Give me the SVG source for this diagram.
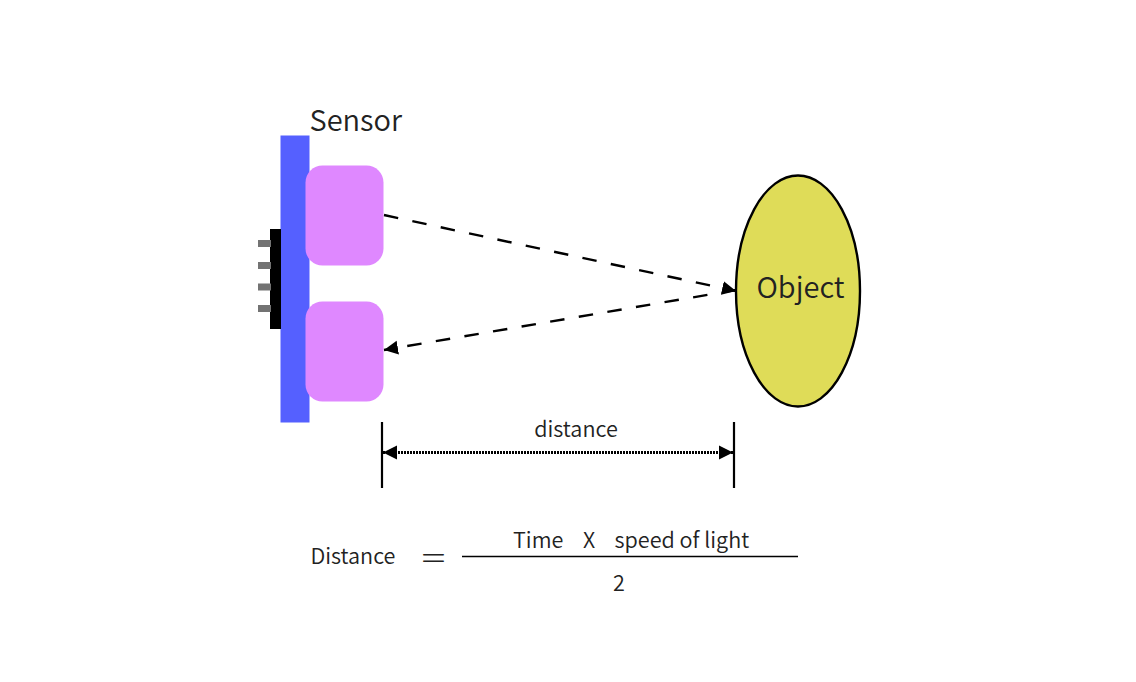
<svg xmlns="http://www.w3.org/2000/svg" width="1136" height="682" viewBox="0 0 1136 682">
<style>
text{font-family:"Noto Sans CJK SC","Noto Sans",sans-serif;fill:#222;font-weight:350}
.l{font-size:21.6px}
.big{font-size:29px}
.dash{fill:none;stroke:#000;stroke-width:2.400;stroke-dasharray:14.500 14.500}
.sol{fill:none;stroke:#000;stroke-width:2.200}
.dot{fill:none;stroke:#000;stroke-width:3;stroke-dasharray:2 1}
.pin{fill:#737373}
.lens{fill:#df88ff}
</style>
<defs>
<marker id="a" markerUnits="userSpaceOnUse" markerWidth="16" markerHeight="16" refX="14" refY="8" orient="auto-start-reverse"><path d="M0 1L14 8L0 15Z" fill="#000"/></marker>
</defs>
<rect width="1136" height="682" fill="#fff"/>
<g id="board"><rect x="280.500" y="135.500" width="29" height="287" fill="#5560ff"/></g>
<g id="connector-block"><rect x="270" y="229" width="11" height="100" fill="#000"/></g>
<g id="pins">
<rect class="pin" x="258" y="240" width="13" height="7"/>
<rect class="pin" x="258" y="262" width="13" height="7"/>
<rect class="pin" x="258" y="283.500" width="13" height="7"/>
<rect class="pin" x="258" y="305" width="13" height="7"/>
</g>
<g id="emitter"><rect class="lens" x="305.500" y="165.500" width="78" height="100" rx="17"/></g>
<g id="receiver"><rect class="lens" x="305.500" y="301.500" width="78" height="100" rx="17"/></g>
<g id="sensor-label"><text x="309.500" y="131" class="big">Sensor</text></g>
<g id="object"><ellipse cx="798" cy="291" rx="62" ry="115.500" fill="#dfdc58" stroke="#000" stroke-width="2.400"/><text x="756.500" y="298" class="big">Object</text></g>
<g id="connectors">
<path class="dash" d="M384 215L736 291" marker-end="url(#a)"/>
<path class="dash" d="M736 290L384 350" marker-end="url(#a)"/>
<path class="sol" d="M382 422V488M734 422V488"/>
<path class="dot" d="M383 452.500H733" marker-start="url(#a)" marker-end="url(#a)"/>
<path d="M462 556.500H798" fill="none" stroke="#000" stroke-width="1.300"/>
</g>
<g id="distance-label"><text x="576" y="437" class="l" text-anchor="middle">distance</text></g>
<g id="formula">
<text x="310.500" y="564" class="l">Distance</text>
<text x="419.500" y="568.500" style="font-size:28px;font-weight:300">＝</text>
<text x="513" y="548" class="l">Time<tspan x="583">X</tspan><tspan x="614.500">speed of light</tspan></text>
<text x="619" y="591" class="l" text-anchor="middle">2</text>
</g>
</svg>
